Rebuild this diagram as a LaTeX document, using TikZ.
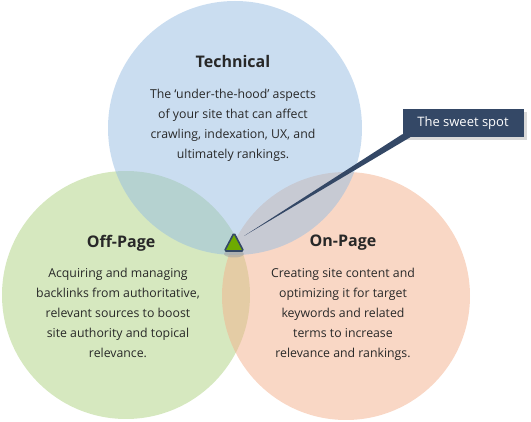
\documentclass[tikz,border=0pt]{standalone}
\usepackage{fontspec}
\setmainfont{Open Sans}
\usepackage{tikz}
\usetikzlibrary{shapes,arrows,positioning,calc}
\definecolor{techblue}{RGB}{150,188,226}
\definecolor{offgreen}{RGB}{173,210,128}
\definecolor{onorange}{RGB}{243,176,140}
\definecolor{spotgreen}{RGB}{110,170,0}
\definecolor{navy}{RGB}{52,72,102}
\definecolor{textgray}{RGB}{40,40,40}

\begin{document}
\begin{tikzpicture}[
    x=1pt, y=-1pt,
    area/.style={circle, minimum size=248pt, inner sep=0pt, fill opacity=0.5},
    title/.style={font=\fontsize{16}{19}\selectfont\bfseries, text=textgray},
    desc/.style={font=\fontsize{12.3}{20}\selectfont, text=textgray, align=center},
    callout/.style={fill=navy, text=white, font=\fontsize{13}{15}\selectfont, minimum width=121pt, minimum height=28pt, inner sep=2pt}
]
\useasboundingbox (0,0) rectangle (531,422);

\node[area, fill=offgreen] (offpage) at (126,295) {};
\node[area, fill=onorange] (onpage) at (346,296) {};
\node[area, fill=techblue, minimum size=254pt] (technical) at (235,128) {};

\node[title] (techtitle) at (233,62) {Technical};
\node[desc, below=14pt of techtitle] (techdesc) {The ‘under-the-hood’ aspects\\ of your site that can affect\\ crawling, indexation, UX, and\\ ultimately rankings.};

\node[title] (offtitle) at (121,243) {Off-Page};
\node[desc, below=10pt of offtitle, xshift=-3pt] (offdesc) {Acquiring and managing\\ backlinks from authoritative,\\ relevant sources to boost\\ site authority and topical\\ relevance.};

\node[title] (ontitle) at (343,243) {On-Page};
\node[desc, below=10pt of ontitle] (ondesc) {Creating site content and\\ optimizing it for target\\ keywords and related\\ terms to increase\\ relevance and rankings.};

% sweet spot marker
\coordinate (apex) at (234,233);
\fill[black!35, opacity=0.6] (234,254) ellipse (10pt and 3.5pt);
\draw[navy, line width=1.6pt, fill=spotgreen, rounded corners=1.5pt] (apex) -- (243.5,251) -- (224.5,251) -- cycle;

% callout
\fill[black!15] (406,112) rectangle (527,140);
\node[callout] (spot) at (463,123) {The sweet spot};
\coordinate (tip) at (244,236);
\fill[navy] (tip) -- ($(spot.south west)+(0,-3)$) -- ($(spot.south west)+(8,0)$) -- cycle;

\end{tikzpicture}
\end{document}
